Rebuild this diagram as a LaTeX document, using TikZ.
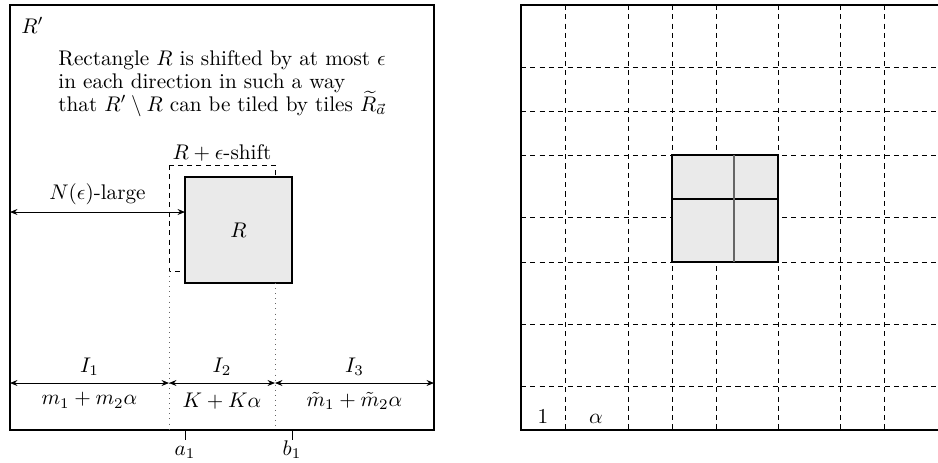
\documentclass[tikz,border=0pt]{standalone}
\usepackage{amsmath, amssymb}
\usepackage{tikz}
\usetikzlibrary{arrows.meta, positioning, calc}
\usepackage{xcolor}
\definecolor{tilefill}{RGB}{234,234,234}

\begin{document}
\begin{tikzpicture}[x=0.472pt, y=-0.472pt,
    frame/.style={draw, line width=0.8pt},
    tilebox/.style={draw, line width=0.8pt, fill=tilefill},
    gridline/.style={dash pattern=on 2.4pt off 2pt, line width=0.45pt},
    span/.style={{Stealth[length=3.5pt, width=2.8pt]}-{Stealth[length=3.5pt, width=2.8pt]}, line width=0.4pt},
    guide/.style={dotted, line width=0.4pt, black!60}]
  \useasboundingbox (0,0) rectangle (938,462);
  \clip (0,0) rectangle (938,462);
  % left panel: R' with the shifted rectangle R
  \coordinate (lnw) at (10,5);
  \coordinate (lse) at (434,430);
  \draw[frame] (lnw) rectangle (lse);
  \node[anchor=base west, inner sep=0] (Rp) at (21,33) {$R'$};
  \node[anchor=north west, align=left, inner sep=0,
        font={\fontsize{10pt}{10.9pt}\selectfont\lineskiplimit=-20pt\relax}] (txt) at (58,50)
    {Rectangle $R$ is shifted by at most $\epsilon$\\
     in each direction in such a way\\
     that $R'\setminus R$ can be tiled by tiles $\widetilde{R}_{\vec a}$};
  % shifted copy
  \draw[gridline] (169,165) rectangle (275,271);
  \node[anchor=base] (shift) at (222,159) {$R+\epsilon$-shift};
  \draw[tilebox] (185,177) rectangle (292,283);
  \node (R) at (238.5,230) {$R$};
  % distance to the border
  \coordinate (nl) at (10,212);
  \coordinate (nr) at (185,212);
  \draw[span] (nl) -- (nr) node[midway, above] {$N(\epsilon)$-large};
  % cut points
  \coordinate (a) at (169,383);
  \coordinate (b) at (275,383);
  \coordinate (il) at (10,383);
  \coordinate (ir) at (434,383);
  \draw[guide] (169,271) -- (169,430);
  \draw[guide] (275,283) -- (275,430);
  \draw[span] (il) -- (a) node[midway, above] {$I_1$}
    node[midway, below, yshift=-1pt] {$m_1+m_2\alpha$};
  \draw[span] (a) -- (b) node[midway, above] {$I_2$}
    node[midway, below, yshift=-1pt] {$K+K\alpha$};
  \draw[span] (b) -- (ir) node[midway, above] {$I_3$}
    node[midway, below, yshift=-1pt] {$\tilde m_1+\tilde m_2\alpha$};
  % ticks
  \draw (185,430) -- (185,440);
  \draw (292,430) -- (292,440);
  \node[anchor=base] (a1) at (185,455) {$a_1$};
  \node[anchor=base] (b1) at (292,455) {$b_1$};
  % right panel: grid of 1 and alpha
  \foreach \gx in {565,628,672,716,778,840,884}
    \draw[gridline] (\gx,5) -- (\gx,430);
  \foreach \gy in {67,111,155,217,262,324,386}
    \draw[gridline] (521,\gy) -- (960,\gy);
  \draw[frame] (960,5) -- (521,5) -- (521,430) -- (960,430);
  % the tiled rectangle
  \draw[tilebox] (672,155) rectangle (778,262);
  \draw[line width=0.6pt] (672,199) -- (778,199);
  \draw[line width=0.6pt, black!60] (734,155) -- (734,262);
  \node[anchor=base] (one) at (543,423) {$1$};
  \node[anchor=base] (alp) at (596,423) {$\alpha$};
\end{tikzpicture}
\end{document}
